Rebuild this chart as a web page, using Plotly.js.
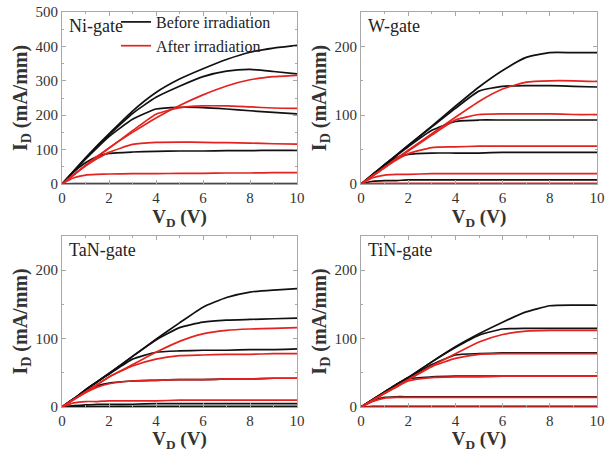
<!DOCTYPE html>
<html><head><meta charset="utf-8">
<script src="https://cdn.plot.ly/plotly-3.0.1.min.js"></script>
<style>html,body{margin:0;padding:0;background:#fff}#chart{width:605px;height:452px}</style>
</head><body><div id="chart"></div>
<script>
// Drain voltage grid (V)
const VD = [0, 0.5, 1, 1.5, 2, 3, 4, 5, 6, 7, 8, 9, 10];

// Ni-gate (mA/mm)
const niBefore = [
  [0, 38, 76, 112, 146, 212, 266, 305, 335, 362, 383, 395, 403],
  [0, 37, 74, 110, 143, 205, 252, 284, 312, 328, 333, 327, 320],
  [0, 36, 72, 106, 138, 188, 218, 223, 222, 218, 213, 208, 204],
  [0, 35, 62, 80, 89, 93, 95, 96, 96, 97, 97, 98, 98],
  [0, 1, 1, 1, 1, 1, 1, 1, 1, 1, 1, 1, 1]
];
const niAfter = [
  [0, 27, 54, 80, 105, 150, 192, 228, 259, 285, 303, 312, 316],
  [0, 27, 54, 80, 104, 155, 203, 222, 227, 227, 224, 221, 220],
  [0, 27, 52, 74, 92, 115, 121, 122, 121, 120, 119, 117, 116],
  [0, 18, 26, 28, 29, 30, 30, 31, 31, 32, 32, 33, 33],
  [0, 0, 0, 0, 0, 0, 0, 0, 0, 0, 0, 0, 0]
];

// W-gate
const wBefore = [
  [0, 14, 28, 42, 56, 84, 113, 141, 165, 184, 191, 191, 191],
  [0, 14, 28, 42, 56, 83, 110, 135, 142, 143, 143, 142, 141],
  [0, 14, 28, 41, 54, 78, 91, 93, 93, 93, 93, 93, 93],
  [0, 13, 27, 38, 43, 45, 45, 45, 46, 46, 46, 46, 46],
  [0, 4, 5, 5, 6, 6, 6, 6, 6, 6, 6, 6, 6]
];
const wAfter = [
  [0, 12, 24, 37, 49, 73, 97, 120, 138, 148, 150, 150, 149],
  [0, 12, 24, 36, 48, 71, 93, 101, 102, 102, 102, 101, 101],
  [0, 12, 24, 35, 44, 53, 54, 55, 55, 55, 55, 55, 55],
  [0, 9, 13, 14, 14, 15, 15, 15, 15, 15, 15, 15, 15],
  [0, 1, 1, 1, 1, 1, 1, 1, 1, 1, 1, 1, 1]
];

// TaN-gate
const tanBefore = [
  [0, 12, 25, 37, 49, 74, 99, 123, 146, 160, 168, 171, 173],
  [0, 12, 25, 37, 49, 74, 98, 116, 124, 127, 128, 129, 130],
  [0, 12, 25, 37, 48, 70, 80, 82, 83, 83, 84, 84, 85],
  [0, 12, 23, 31, 35, 38, 39, 40, 40, 41, 41, 42, 42],
  [0, 2, 3, 4, 4, 4, 5, 5, 5, 5, 5, 5, 5],
  [0, 1, 1, 1, 1, 1, 1, 1, 1, 1, 1, 1, 1]
];
const tanAfter = [
  [0, 11, 22, 33, 44, 62, 80, 96, 107, 112, 114, 115, 116],
  [0, 11, 22, 33, 44, 60, 70, 75, 76, 77, 77, 78, 78],
  [0, 11, 21, 29, 34, 38, 39, 40, 40, 41, 41, 42, 42],
  [0, 6, 8, 8, 9, 9, 9, 10, 10, 10, 10, 10, 10]
];

// TiN-gate
const tinBefore = [
  [0, 11, 22, 33, 43, 66, 88, 107, 124, 139, 148, 149, 149],
  [0, 11, 22, 33, 43, 66, 87, 105, 114, 115, 115, 115, 115],
  [0, 11, 22, 33, 42, 62, 76, 78, 79, 79, 79, 79, 79],
  [0, 11, 21, 31, 41, 44, 45, 45, 45, 45, 45, 45, 45],
  [0, 9, 14, 15, 15, 15, 15, 15, 15, 15, 15, 15, 15],
  [0, 1, 1, 1, 1, 1, 1, 1, 1, 1, 1, 1, 1]
];
const tinAfter = [
  [0, 10, 20, 30, 40, 60, 78, 95, 106, 111, 112, 112, 112],
  [0, 10, 20, 30, 40, 59, 71, 77, 78, 78, 78, 78, 78],
  [0, 10, 20, 29, 38, 43, 44, 44, 45, 45, 45, 45, 45],
  [0, 8, 13, 14, 14, 14, 14, 14, 14, 14, 14, 14, 14],
  [0, 0, 0, 0, 0, 0, 0, 0, 0, 0, 0, 0, 0]
];

const panelNames = ['Ni-gate', 'W-gate', 'TaN-gate', 'TiN-gate'];
const legendNames = ['Before irradiation', 'After irradiation'];

const BLACK = '#111111', RED = '#e3231f';
const panels = [
  {b: niBefore, a: niAfter, xa: 'x', ya: 'y'},
  {b: wBefore, a: wAfter, xa: 'x2', ya: 'y2'},
  {b: tanBefore, a: tanAfter, xa: 'x3', ya: 'y3'},
  {b: tinBefore, a: tinAfter, xa: 'x4', ya: 'y4'}
];
const traces = [];
panels.forEach((p, pi) => {
  p.b.forEach((ys, i) => traces.push({
    x: VD, y: ys, xaxis: p.xa, yaxis: p.ya, mode: 'lines', type: 'scatter',
    line: {color: BLACK, width: 1.7, shape: 'spline', smoothing: 0.5},
    name: legendNames[0], legendgroup: 'b', showlegend: pi === 0 && i === 0, hoverinfo: 'skip'
  }));
});
panels.forEach((p, pi) => {
  p.a.forEach((ys, i) => traces.push({
    x: VD, y: ys, xaxis: p.xa, yaxis: p.ya, mode: 'lines', type: 'scatter',
    line: {color: RED, width: 1.7, shape: 'spline', smoothing: 0.5},
    name: legendNames[1], legendgroup: 'a', showlegend: pi === 0 && i === 0, hoverinfo: 'skip'
  }));
});

const W = 605, H = 452;
const fx = (a, b) => [a / W, b / W];
const fy = (top, bot) => [1 - bot / H, 1 - top / H];
const SERIF = 'Liberation Serif, Times New Roman, serif';
function xax(dom, anchor) {
  return {
    domain: dom, anchor: anchor, range: [0, 10], dtick: 2, tick0: 0,
    showline: true, linecolor: '#a8a8a8', linewidth: 1, mirror: 'ticks',
    ticks: 'inside', ticklen: 4, tickcolor: '#a8a8a8', showgrid: false, zeroline: false,
    minor: {dtick: 1, ticks: 'inside', ticklen: 2, tickcolor: '#a8a8a8', showgrid: false},
    tickfont: {family: SERIF, size: 15, color: '#333'},
    title: {text: '<b>V<sub>D</sub> (V)</b>', font: {family: SERIF, size: 19, color: '#333'}, standoff: 0}
  };
}
function yax(dom, anchor, max) {
  return {
    domain: dom, anchor: anchor, range: [0, max], dtick: 100, tick0: 0,
    showline: true, linecolor: '#a8a8a8', linewidth: 1, mirror: 'ticks',
    ticks: 'inside', ticklen: 4, tickcolor: '#a8a8a8', showgrid: false, zeroline: false,
    minor: {dtick: 50, ticks: 'inside', ticklen: 2, tickcolor: '#a8a8a8', showgrid: false},
    tickfont: {family: SERIF, size: 15, color: '#333'},
    title: {text: '<b>I<sub>D</sub> (mA/mm)</b>', font: {family: SERIF, size: 20, color: '#333'}, standoff: 2}
  };
}
const layout = {
  width: W, height: H, margin: {l: 0, r: 0, t: 0, b: 0},
  paper_bgcolor: '#fff', plot_bgcolor: '#fff', showlegend: true,
  xaxis: xax(fx(62, 297), 'y'), yaxis: yax(fy(12, 184), 'x', 500),
  xaxis2: xax(fx(361, 597), 'y2'), yaxis2: yax(fy(12, 184), 'x2', 250),
  xaxis3: xax(fx(62, 297), 'y3'), yaxis3: yax(fy(236, 407), 'x3', 250),
  xaxis4: xax(fx(361, 597), 'y4'), yaxis4: yax(fy(236, 407), 'x4', 250),
  legend: {x: 116 / W, y: 1 - 5 / H, xanchor: 'left', yanchor: 'top', bgcolor: 'rgba(0,0,0,0)',
    font: {family: SERIF, size: 16, color: '#222'}, tracegroupgap: 0, borderwidth: 0},
  annotations: panelNames.map((t, i) => ({
    text: t, xref: (i === 0 ? 'x' : 'x' + (i + 1)) + ' domain', yref: (i === 0 ? 'y' : 'y' + (i + 1)) + ' domain',
    x: 0.02, y: 0.99, xanchor: 'left', yanchor: 'top', showarrow: false,
    font: {family: SERIF, size: 18, color: '#222'}
  }))
};
Plotly.newPlot('chart', traces, layout, {staticPlot: true, displayModeBar: false});
</script></body></html>
